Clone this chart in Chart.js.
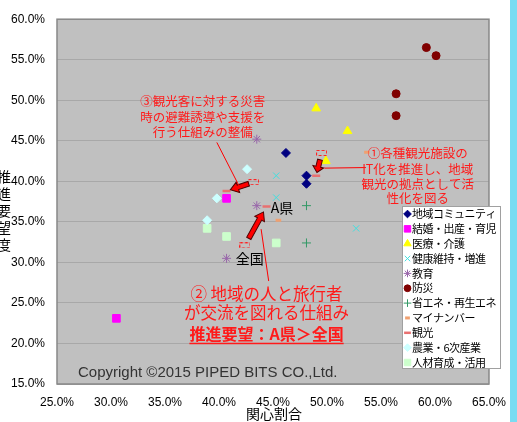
<!DOCTYPE html>
<html>
<head>
<meta charset="utf-8">
<script src="https://cdn.jsdelivr.net/npm/chart.js@4/dist/chart.umd.min.js"></script>
<style>
html, body { margin: 0; padding: 0; background: #fff; }
canvas { display: block; }
</style>
</head>
<body>
<canvas id="c" width="517" height="422"></canvas>
<script>
// 関心割合 (x, %) / 推進要望度 (y, %)
var categories = ['地域コミュニティ', '結婚・出産・育児', '医療・介護', '健康維持・増進', '教育', '防災',
	'省エネ・再生エネ', 'マイナンバー', '観光', '農業・6次産業', '人材育成・活用'];
var community = [[46.2, 43.5], [48.1, 40.7], [48.1, 39.7]];
var marriage = [[40.7, 37.9], [30.5, 23.1]];
var medical = [[49.0, 49.0], [51.9, 46.2], [49.9, 42.5]];
var health = [[45.3, 40.7], [45.3, 38.0], [52.7, 34.2]];
var education = [[43.5, 45.2], [43.5, 37.0], [40.7, 30.5]];
var disaster = [[59.2, 56.5], [60.1, 55.5], [56.4, 50.8], [56.4, 48.1]];
var energy = [[48.1, 37.0], [48.1, 32.4]];
var mynumber = [[45.5, 35.2], [53.7, 43.6]];
var tourismPref = [[49.0, 40.7], [40.7, 38.8], [44.4, 36.9]];
var tourismNation = [[49.5, 43.5], [43.2, 39.9], [42.4, 32.1]];
var agriculture = [[42.6, 41.5], [39.8, 37.9], [38.9, 35.2]];
var people = [[38.9, 34.2], [40.7, 33.2], [45.3, 32.4]];

var xTicks = [25, 30, 35, 40, 45, 50, 55, 60, 65];
var yTicks = [15, 20, 25, 30, 35, 40, 45, 50, 55, 60];

var notes = [
	{ x: 58.4, y: [43.5, 41.5, 39.7, 37.9], size: 12.5, bold: false,
	  lines: ['①各種観光施設の', 'IT化を推進し、地域', '観光の拠点として活', '性化を図る'] },
	{ x: 38.5, y: [49.85, 47.9, 46.1], size: 12.5, bold: false,
	  lines: ['③観光客に対する災害', '時の避難誘導や支援を', '行う仕組みの整備'] },
	{ x: 44.4, y: [26.1, 23.8], size: 16.5, bold: false,
	  lines: ['② 地域の人と旅行者', 'が交流を図れる仕組み'] },
	{ x: 44.4, y: [21.2], size: 16, bold: true, underline: true,
	  lines: ['推進要望：A県＞全国'] }
];

function pts(arr) {
	return arr.map(function(p) { return { x: p[0], y: p[1] }; });
}

// dashed box marker for 全国 values
var nationMark = document.createElement('canvas');
nationMark.width = 11; nationMark.height = 6;
(function() {
	var g = nationMark.getContext('2d');
	g.strokeStyle = '#ff2020';
	g.lineWidth = 1;
	g.setLineDash([3, 2]);
	g.strokeRect(0.5, 0.5, 10, 5);
})();

var styles = [
	{ style: 'rectRot', r: 4.5, bg: '#000080', bd: '#000080', bw: 1 },
	{ style: 'rect', r: 5.4, bg: '#ff00ff', bd: '#ff00ff', bw: 1 },
	{ style: 'triangle', r: 5, bg: '#ffff00', bd: '#ffff00', bw: 1 },
	{ style: 'crossRot', r: 4.5, bg: '#40e0e0', bd: '#40e0e0', bw: 1 },
	{ style: 'star', r: 4.5, bg: '#9966aa', bd: '#9966aa', bw: 1 },
	{ style: 'circle', r: 4, bg: '#800000', bd: '#800000', bw: 1 },
	{ style: 'cross', r: 4.5, bg: '#339966', bd: '#339966', bw: 1 },
	{ style: 'line', r: 2.8, bg: '#f0a070', bd: '#f0a070', bw: 3 },
	{ style: 'line', r: 4, bg: '#e87070', bd: '#e87070', bw: 2.5 },
	{ style: 'rectRot', r: 4.5, bg: '#ccffff', bd: '#ccffff', bw: 1 },
	{ style: 'rect', r: 5.4, bg: '#ccffcc', bd: '#ccffcc', bw: 1 }
];
var seriesData = [community, marriage, medical, health, education, disaster,
	energy, mynumber, tourismPref, agriculture, people];

var datasets = seriesData.map(function(d, i) {
	var s = styles[i];
	return {
		label: categories[i], data: pts(d),
		pointStyle: s.style, pointRadius: s.r,
		backgroundColor: s.bg, borderColor: s.bd, pointBorderWidth: s.bw
	};
});
datasets.push({
	label: '観光(全国)', data: pts(tourismNation),
	pointStyle: nationMark, pointRadius: 5, borderColor: '#ff2020', backgroundColor: '#ff2020'
});

function arrow(ctx, x1, y1, x2, y2) {
	var ang = Math.atan2(y2 - y1, x2 - x1), len = Math.hypot(x2 - x1, y2 - y1);
	var hl = Math.min(8, len * 0.45), sw = 2.4, hw = 5.5;
	ctx.save();
	ctx.translate(x1, y1); ctx.rotate(ang);
	ctx.beginPath();
	ctx.moveTo(0, -sw); ctx.lineTo(len - hl, -sw); ctx.lineTo(len - hl, -hw);
	ctx.lineTo(len, 0);
	ctx.lineTo(len - hl, hw); ctx.lineTo(len - hl, sw); ctx.lineTo(0, sw);
	ctx.closePath();
	ctx.fillStyle = '#ff0000'; ctx.fill();
	ctx.lineWidth = 1; ctx.strokeStyle = '#500000'; ctx.stroke();
	ctx.restore();
}

var sheet = {
	id: 'sheet',
	beforeDraw: function(chart) {
		var ctx = chart.ctx, a = chart.chartArea;
		ctx.save();
		ctx.fillStyle = '#ffffff'; ctx.fillRect(0, 0, chart.width, chart.height);
		ctx.fillStyle = '#79dcf2'; ctx.fillRect(510, 0, 7, chart.height);
		ctx.fillStyle = '#c0c0c0'; ctx.fillRect(a.left, a.top, a.right - a.left, a.bottom - a.top);
		ctx.restore();
	},
	beforeDatasetsDraw: function(chart) {
		var ctx = chart.ctx, a = chart.chartArea;
		ctx.save();
		ctx.strokeStyle = '#888888'; ctx.lineWidth = 1.5;
		ctx.strokeRect(a.left, a.top, a.right - a.left, a.bottom - a.top);
		ctx.fillStyle = '#333333';
		ctx.font = '15px "Liberation Sans", Arial, sans-serif';
		ctx.textBaseline = 'middle';
		ctx.fillText('Copyright ©2015 PIPED BITS CO.,Ltd.', a.left + 21, a.bottom - 11);
		ctx.restore();
	},
	afterDatasetsDraw: function(chart) {
		var ctx = chart.ctx, xs = chart.scales.x, ys = chart.scales.y;
		function px(v) { return xs.getPixelForValue(v); }
		function py(v) { return ys.getPixelForValue(v); }
		ctx.save();
		// arrows from 全国 to A県
		var mids = [];
		for (var i = 0; i < tourismNation.length; i++) {
			var n = tourismNation[i], p = tourismPref[i];
			var x1 = px(n[0]), y1 = py(n[1]), x2 = px(p[0]), y2 = py(p[1]);
			var f1 = i === 0 ? 0.3 : 0.18, f2 = 0.86;
			var ax = x1 + (x2 - x1) * f1, ay = y1 + (y2 - y1) * f1;
			var bx = x1 + (x2 - x1) * f2, by = y1 + (y2 - y1) * f2;
			arrow(ctx, ax, ay, bx, by);
			mids.push([(ax + bx) / 2, (ay + by) / 2]);
		}
		// leader lines
		ctx.strokeStyle = '#ff0000'; ctx.lineWidth = 1;
		ctx.beginPath();
		ctx.moveTo(mids[0][0] + 6, mids[0][1] + 2); ctx.lineTo(px(53.6), py(41.7));
		ctx.moveTo(px(39.8), py(44.8)); ctx.lineTo(mids[1][0], mids[1][1]);
		ctx.moveTo(px(44.6), py(27.7)); ctx.lineTo(px(43.9), py(34.1));
		ctx.stroke();
		// labels
		ctx.fillStyle = '#000000';
		ctx.font = '14px "Noto Sans CJK JP", sans-serif';
		ctx.textBaseline = 'middle'; ctx.textAlign = 'left';
		ctx.fillText('全国', px(41.55), py(30.5));
		ctx.fillText('A県', px(44.8), py(36.8));
		// notes
		ctx.fillStyle = '#ff1a1a'; ctx.textAlign = 'center';
		notes.forEach(function(nt) {
			ctx.font = (nt.bold ? 'bold ' : '') + nt.size + 'px "Noto Sans CJK JP", sans-serif';
			nt.lines.forEach(function(t, k) {
				var x = px(nt.x), y = py(nt.y[k]);
				ctx.fillText(t, x, y);
				if (nt.underline) {
					var w = ctx.measureText(t).width;
					ctx.fillRect(x - w / 2, y + nt.size / 2 + 1, w, 1.5);
				}
			});
		});
		ctx.restore();
	},
	afterDraw: function(chart) {
		var ctx = chart.ctx, a = chart.chartArea;
		ctx.save();
		// axis titles
		ctx.fillStyle = '#000000';
		ctx.font = '14px "Noto Sans CJK JP", sans-serif';
		ctx.textAlign = 'center'; ctx.textBaseline = 'middle';
		ctx.fillText('関心割合', (a.left + a.right) / 2 + 1, 414);
		var yt = '推進要望度';
		for (var i = 0; i < yt.length; i++) ctx.fillText(yt[i], 4, 177 + i * 17);
		// legend
		var lx = 402, ly = 206, lw = 98, lh = 162;
		ctx.fillStyle = '#ffffff'; ctx.fillRect(lx, ly, lw, lh);
		ctx.strokeStyle = '#a0a0a0'; ctx.lineWidth = 1;
		ctx.strokeRect(lx + 0.5, ly + 0.5, lw, lh);
		ctx.font = '11px "Noto Sans CJK JP", sans-serif';
		ctx.letterSpacing = '-0.5px';
		ctx.textAlign = 'left';
		for (var k = 0; k < categories.length; k++) {
			var s = styles[k], y = ly + 8 + k * 14.85;
			ctx.fillStyle = s.bg; ctx.strokeStyle = s.bd;
			ctx.lineWidth = s.bw;
			Chart.helpers.drawPoint(ctx, { pointStyle: s.style, radius: s.r * 0.85, borderWidth: s.bw, rotation: 0 }, lx + 5.5, y);
			ctx.fillStyle = '#000000';
			ctx.fillText(categories[k], lx + 10, y);
		}
		ctx.restore();
	}
};

new Chart(document.getElementById('c'), {
	type: 'scatter',
	data: { datasets: datasets },
	plugins: [sheet],
	options: {
		responsive: false,
		animation: false,
		devicePixelRatio: 1,
		layout: { padding: { top: 16, right: 25, left: 0, bottom: 0 } },
		plugins: { legend: { display: false }, tooltip: { enabled: false } },
		scales: {
			x: {
				type: 'linear', min: xTicks[0], max: xTicks[xTicks.length - 1],
				afterFit: function(s) { s.height = 38; },
				afterBuildTicks: function(s) { s.ticks = xTicks.map(function(v) { return { value: v }; }); },
				grid: { display: false, drawTicks: false },
				border: { display: false },
				ticks: {
					padding: 11, color: '#000000', maxRotation: 0,
					font: { family: '"Liberation Sans", Arial, sans-serif', size: 12 },
					callback: function(v) { return v.toFixed(1) + '%'; }
				}
			},
			y: {
				type: 'linear', min: yTicks[0], max: yTicks[yTicks.length - 1],
				afterFit: function(s) { s.width = 57; },
				afterBuildTicks: function(s) { s.ticks = yTicks.map(function(v) { return { value: v }; }); },
				grid: { color: '#a8a8a8', drawTicks: false, lineWidth: 1 },
				border: { display: false },
				ticks: {
					padding: 12, color: '#000000',
					font: { family: '"Liberation Sans", Arial, sans-serif', size: 12 },
					callback: function(v) { return v.toFixed(1) + '%'; }
				}
			}
		}
	}
});
</script>
</body>
</html>
